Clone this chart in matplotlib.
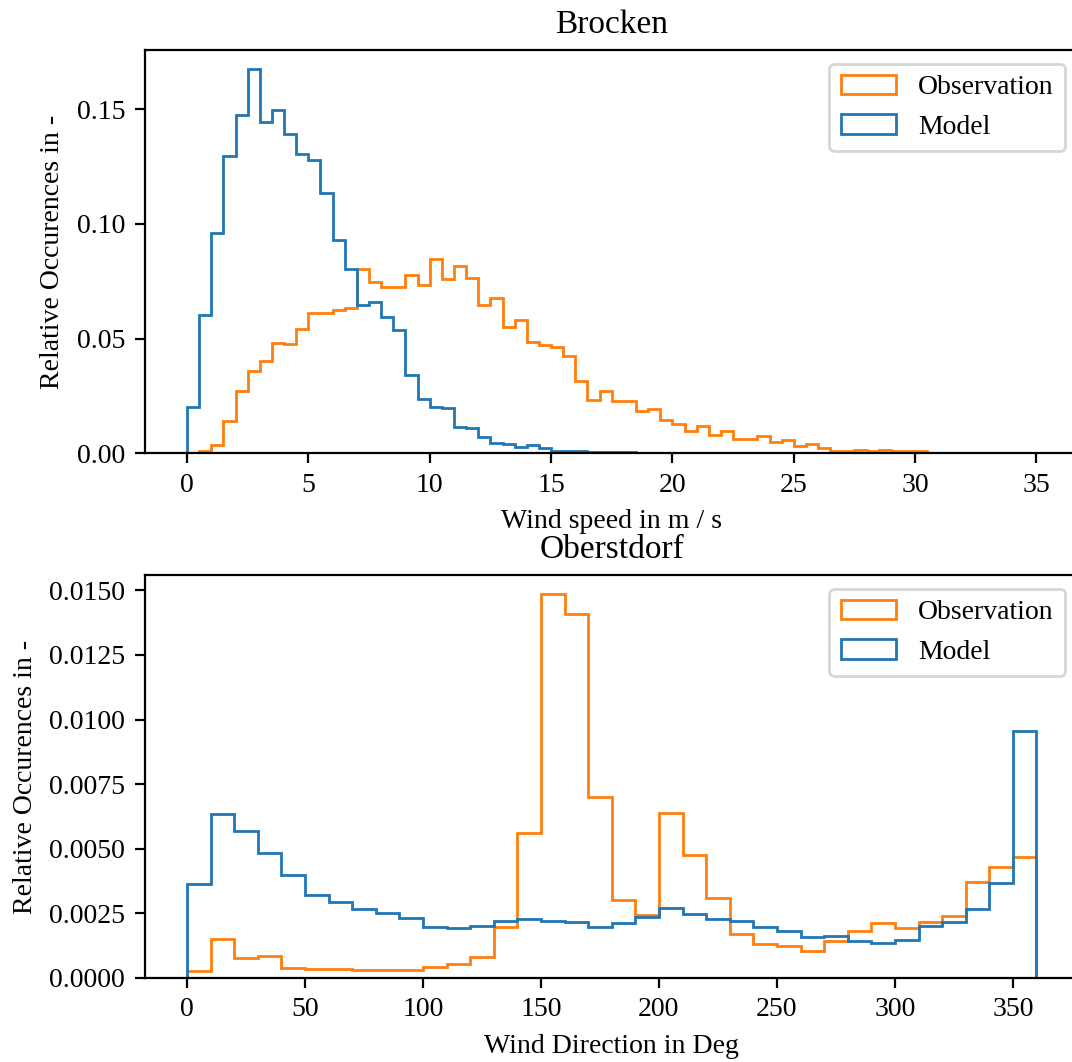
"""
Wind speed and wind direction histograms: observation vs model.
"""

import numpy as np
import matplotlib

matplotlib.use("Agg")
import matplotlib.pyplot as plt

plt.rcParams["font.family"] = ["Liberation Serif", "DejaVu Serif"]
plt.rcParams["font.size"] = 10

# Brocken: wind speed, bins of 0.5 m/s from 0 to 35
speed_edges = np.arange(0, 35.5, 0.5)

speed_obs = [
    0.0002, 0.0011, 0.0037, 0.0139, 0.0270, 0.0357, 0.0403, 0.0481, 0.0478, 0.0542,
    0.0611, 0.0611, 0.0626, 0.0633, 0.0805, 0.0745, 0.0725, 0.0727, 0.0778, 0.0735,
    0.0848, 0.0761, 0.0818, 0.0764, 0.0648, 0.0677, 0.0549, 0.0579, 0.0483, 0.0473,
    0.0463, 0.0422, 0.0313, 0.0233, 0.0270, 0.0230, 0.0228, 0.0184, 0.0195, 0.0145,
    0.0126, 0.0099, 0.0117, 0.0081, 0.0095, 0.0063, 0.0063, 0.0076, 0.0050, 0.0058,
    0.0033, 0.0040, 0.0024, 0.0012, 0.0012, 0.0015, 0.0012, 0.0015, 0.0008, 0.0011,
    0.0008, 0.0, 0.0, 0.0, 0.0, 0.0, 0.0, 0.0, 0.0, 0.0,
]

speed_model = [
    0.0201, 0.0604, 0.0960, 0.1294, 0.1476, 0.1675, 0.1443, 0.1498, 0.1392, 0.1306,
    0.1280, 0.1135, 0.0931, 0.0803, 0.0645, 0.0660, 0.0596, 0.0536, 0.0342, 0.0238,
    0.0202, 0.0196, 0.0116, 0.0112, 0.0072, 0.0046, 0.0040, 0.0028, 0.0037, 0.0023,
    0.0012, 0.0012, 0.0010, 0.0007, 0.0007, 0.0004, 0.0004, 0.0002, 0.0001, 0.0,
    0.0, 0.0, 0.0, 0.0, 0.0, 0.0, 0.0, 0.0, 0.0, 0.0,
    0.0, 0.0, 0.0, 0.0, 0.0, 0.0, 0.0, 0.0, 0.0, 0.0,
    0.0, 0.0, 0.0, 0.0, 0.0, 0.0, 0.0, 0.0, 0.0, 0.0,
]

# Oberstdorf: wind direction, bins of 10 deg from 0 to 360
dir_edges = np.arange(0, 370, 10)

dir_obs = [
    0.00026, 0.00152, 0.00077, 0.00087, 0.00039, 0.00035, 0.00034, 0.00029, 0.00031,
    0.00030, 0.00044, 0.00055, 0.00083, 0.00198, 0.00561, 0.01485, 0.01410, 0.00702,
    0.00303, 0.00245, 0.00638, 0.00476, 0.00309, 0.00170, 0.00133, 0.00125, 0.00105,
    0.00145, 0.00180, 0.00212, 0.00192, 0.00216, 0.00239, 0.00370, 0.00428, 0.00467,
]

dir_model = [
    0.00363, 0.00635, 0.00570, 0.00483, 0.00397, 0.00322, 0.00294, 0.00267, 0.00251,
    0.00232, 0.00199, 0.00193, 0.00203, 0.00220, 0.00228, 0.00219, 0.00216, 0.00199,
    0.00212, 0.00236, 0.00270, 0.00248, 0.00230, 0.00219, 0.00199, 0.00183, 0.00158,
    0.00162, 0.00143, 0.00137, 0.00148, 0.00200, 0.00216, 0.00267, 0.00366, 0.00956,
]


def plot_histogram(ax, edges, obs, model, xlabel, title):

    ax.hist(
        edges[:-1],
        bins=edges,
        weights=obs,
        histtype="step",
        color="C1",
        label="Observation",
    )

    ax.hist(
        edges[:-1],
        bins=edges,
        weights=model,
        histtype="step",
        color="C0",
        label="Model",
    )

    ax.set_xlabel(xlabel)
    ax.set_ylabel("Relative Occurences in -")
    ax.set_title(title)

    ax.legend(loc="upper right")


fig = plt.figure(figsize=(5.36, 5.31), dpi=200)

ax_top = fig.add_axes([0.1348, 0.5732, 0.8717, 0.3798])
ax_bottom = fig.add_axes([0.1348, 0.0791, 0.8717, 0.3795])

plot_histogram(
    ax_top,
    speed_edges,
    speed_obs,
    speed_model,
    "Wind speed in m / s",
    "Brocken",
)

plot_histogram(
    ax_bottom,
    dir_edges,
    dir_obs,
    dir_model,
    "Wind Direction in Deg",
    "Oberstdorf",
)

fig.savefig("out.png", dpi=200)
